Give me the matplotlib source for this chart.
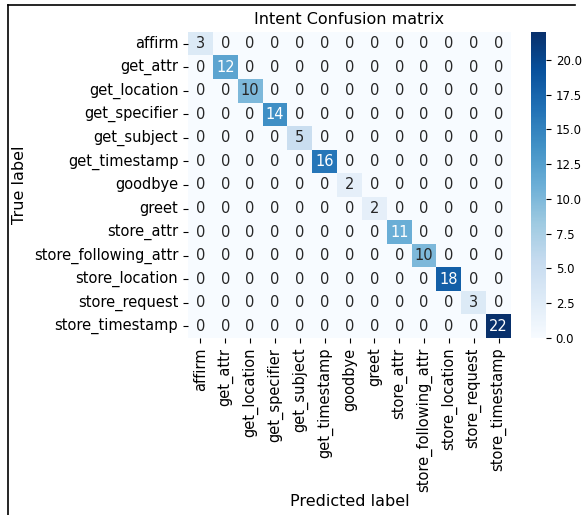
import matplotlib
matplotlib.use("Agg")
import matplotlib.pyplot as plt
import numpy as np
import seaborn as sns
from matplotlib.lines import Line2D

labels = ["affirm", "get_attr", "get_location", "get_specifier", "get_subject",
          "get_timestamp", "goodbye", "greet", "store_attr", "store_following_attr",
          "store_location", "store_request", "store_timestamp"]
correct = [3, 12, 10, 14, 5, 16, 2, 2, 11, 10, 18, 3, 22]

cm = np.diag(correct)

fig = plt.figure(figsize=(5.83, 5.15), dpi=100)
ax = fig.add_axes([0.3225, 0.3437, 0.554, 0.5943])
cax = fig.add_axes([0.911, 0.3437, 0.0255, 0.5943])

sns.heatmap(cm, annot=True, fmt="d", cmap="Blues", ax=ax, cbar_ax=cax,
            xticklabels=labels, yticklabels=labels, annot_kws={"size": 10.5})

ax.set_title("Intent Confusion matrix", fontsize=11.5)
ax.set_xlabel("Predicted label", fontsize=11.5)
ax.set_ylabel("True label", fontsize=11.5)
ax.tick_params(labelsize=10.5)
plt.setp(ax.get_xticklabels(), rotation=90)
plt.setp(ax.get_yticklabels(), rotation=0)
ax.xaxis.set_label_coords(0.5, -0.51)
ax.yaxis.set_label_coords(-0.5, 0.5)

cax.set_yticks(np.arange(0, 22.5, 2.5))
cax.tick_params(labelsize=8.5)

# frame around the figure (left and top edges visible)
fig.add_artist(Line2D([0.014, 0.014], [0.0, 0.99], color="black", lw=1.2))
fig.add_artist(Line2D([0.014, 0.986], [0.99, 0.99], color="black", lw=1.2))

fig.savefig("out.png", dpi=100)
